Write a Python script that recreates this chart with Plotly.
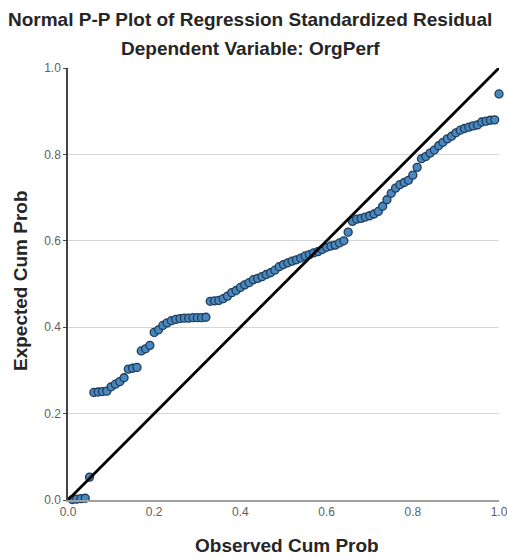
import plotly.graph_objects as go

observed = [0.01, 0.02, 0.03, 0.04, 0.05, 0.06, 0.07, 0.08, 0.09, 0.10,
            0.11, 0.12, 0.13, 0.14, 0.15, 0.16, 0.17, 0.18, 0.19, 0.20,
            0.21, 0.22, 0.23, 0.24, 0.25, 0.26, 0.27, 0.28, 0.29, 0.30,
            0.31, 0.32, 0.33, 0.34, 0.35, 0.36, 0.37, 0.38, 0.39, 0.40,
            0.41, 0.42, 0.43, 0.44, 0.45, 0.46, 0.47, 0.48, 0.49, 0.50,
            0.51, 0.52, 0.53, 0.54, 0.55, 0.56, 0.57, 0.58, 0.59, 0.60,
            0.61, 0.62, 0.63, 0.64, 0.65, 0.66, 0.67, 0.68, 0.69, 0.70,
            0.71, 0.72, 0.73, 0.74, 0.75, 0.76, 0.77, 0.78, 0.79, 0.80,
            0.81, 0.82, 0.83, 0.84, 0.85, 0.86, 0.87, 0.88, 0.89, 0.90,
            0.91, 0.92, 0.93, 0.94, 0.95, 0.96, 0.97, 0.98, 0.99, 1.00]

expected = [0.001, 0.002, 0.003, 0.004, 0.053, 0.249, 0.250, 0.251, 0.252, 0.262,
            0.268, 0.274, 0.283, 0.303, 0.305, 0.307, 0.345, 0.350, 0.358, 0.388,
            0.394, 0.404, 0.410, 0.415, 0.418, 0.420, 0.421, 0.421, 0.422, 0.422,
            0.422, 0.423, 0.460, 0.461, 0.462, 0.466, 0.472, 0.480, 0.485, 0.492,
            0.498, 0.503, 0.510, 0.513, 0.517, 0.522, 0.526, 0.532, 0.540, 0.545,
            0.549, 0.553, 0.556, 0.560, 0.565, 0.568, 0.572, 0.575, 0.580, 0.585,
            0.588, 0.590, 0.595, 0.600, 0.620, 0.645, 0.650, 0.652, 0.655, 0.658,
            0.662, 0.668, 0.680, 0.695, 0.710, 0.722, 0.730, 0.735, 0.740, 0.752,
            0.770, 0.790, 0.795, 0.803, 0.810, 0.820, 0.828, 0.836, 0.842, 0.850,
            0.856, 0.860, 0.863, 0.866, 0.868, 0.875, 0.877, 0.879, 0.880, 0.940]

ref_line = [0.0, 1.0]
tick_vals = [0.0, 0.2, 0.4, 0.6, 0.8, 1.0]
tick_text = ["0.0", "0.2", "0.4", "0.6", "0.8", "1.0"]

fig = go.Figure()
fig.add_trace(go.Scatter(
    x=observed, y=expected, mode="markers",
    marker=dict(symbol="circle", size=8, color="#4a87bd",
                line=dict(color="#1d3c5a", width=1.3)),
    cliponaxis=False, showlegend=False, hoverinfo="x+y"))
fig.add_trace(go.Scatter(
    x=ref_line, y=ref_line, mode="lines",
    line=dict(color="#000000", width=2.8),
    cliponaxis=False, showlegend=False, hoverinfo="skip"))

font_family = "Liberation Sans, Arial, sans-serif"
title_font = dict(family=font_family, size=19, color="#262626")

fig.update_layout(
    width=507, height=559,
    margin=dict(l=68, r=8, t=68, b=59, autoexpand=False),
    paper_bgcolor="white", plot_bgcolor="white",
    font=dict(family=font_family, color="#222222"),
    xaxis=dict(range=[0, 1], tickmode="array", tickvals=tick_vals, ticktext=tick_text,
               showgrid=False, zeroline=False, showline=True, linecolor="#a0a0a0",
               linewidth=1.5, ticks="", automargin=False, ticklabeloverflow="allow",
               tickfont=dict(size=12, color="#606060")),
    yaxis=dict(range=[0, 1], tickmode="array", tickvals=tick_vals, ticktext=tick_text,
               showgrid=True, gridcolor="#d6d6d6", gridwidth=1.2, zeroline=False,
               showline=True, linecolor="#444444", linewidth=1.5, automargin=False,
               ticks="outside", ticklen=3, tickcolor="#444444", ticklabeloverflow="allow",
               tickfont=dict(size=12, color="#606060")),
    annotations=[
        dict(text="<b>Normal P-P Plot of Regression Standardized Residual</b>",
             xref="paper", yref="paper", x=0.5, y=1, yshift=49, showarrow=False,
             xanchor="center", yanchor="middle", font=title_font, xshift=-34),
        dict(text="<b>Dependent Variable: OrgPerf</b>",
             xref="paper", yref="paper", x=0.5, y=1, yshift=20, showarrow=False,
             xanchor="center", yanchor="middle", font=title_font, xshift=-33),
        dict(text="<b>Observed Cum Prob</b>",
             xref="paper", yref="paper", x=0.5, y=0, yshift=-45, showarrow=False,
             xanchor="center", yanchor="middle", font=title_font, xshift=3),
        dict(text="<b>Expected Cum Prob</b>",
             xref="paper", yref="paper", x=0, y=0.5, xshift=-48, yshift=3, showarrow=False,
             textangle=-90, xanchor="center", yanchor="middle", font=title_font),
    ],
)

fig.write_html("out.html",
               config={"displayModeBar": False},
               post_script="document.body.style.margin='0';document.body.style.overflow='hidden';")
